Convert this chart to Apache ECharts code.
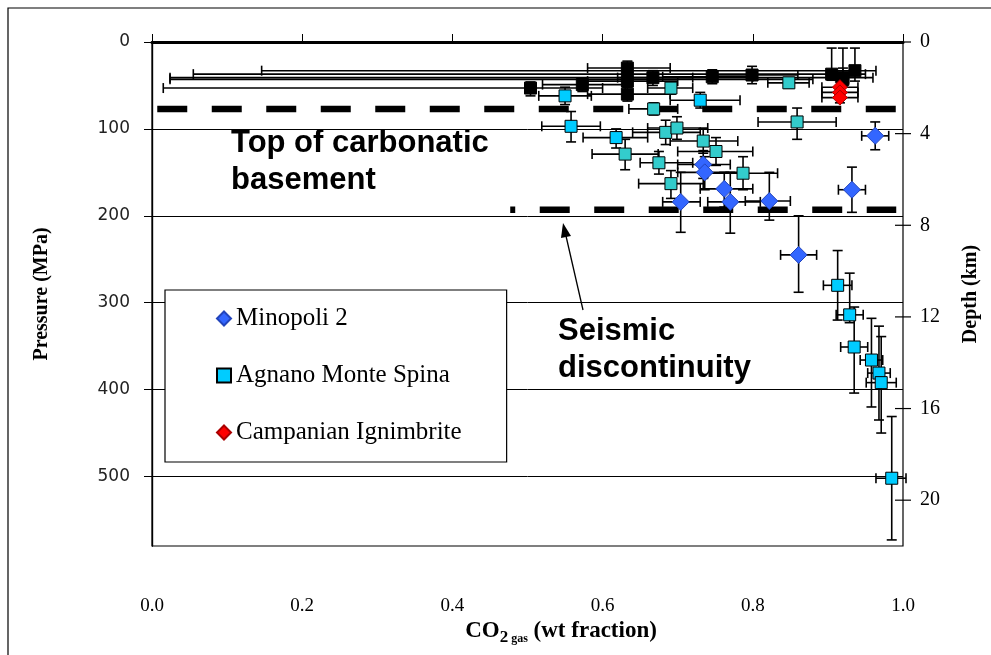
<!DOCTYPE html>
<html lang="en">
<head>
<meta charset="UTF-8">
<title>CO2 gas vs pressure</title>
<script src="https://cdn.jsdelivr.net/npm/echarts@6/dist/echarts.min.js"></script>
<style>
    html, body { margin: 0; padding: 0; background: #fff; }
    #pic { width: 991px; height: 655px; }
</style>
</head>
<body>
<div id="pic"></div>
<script>
// each point: [CO2 fraction, pressure, CO2 low, CO2 high, pressure low, pressure high]
var minopoli = [
    [0.963, 108, 0.945, 0.981, 92, 124],
    [0.932, 170, 0.914, 0.950, 144, 196],
    [0.861, 245, 0.837, 0.885, 200, 288],
    [0.734, 141, 0.700, 0.770, 125, 157],
    [0.736, 150, 0.700, 0.780, 132, 170],
    [0.762, 169, 0.730, 0.800, 150, 190],
    [0.770, 184, 0.740, 0.810, 150, 220],
    [0.704, 184, 0.680, 0.730, 150, 219],
    [0.822, 183, 0.790, 0.850, 150, 205]
];
var agnanoLight = [
    [0.550, 62, 0.515, 0.585, 52, 72],
    [0.558, 97, 0.519, 0.597, 80, 115],
    [0.618, 110, 0.574, 0.660, 100, 122],
    [0.730, 67, 0.690, 0.783, 58, 76],
    [0.913, 280, 0.894, 0.932, 240, 320],
    [0.929, 314, 0.911, 0.947, 266, 323],
    [0.935, 351, 0.917, 0.953, 305, 404],
    [0.958, 366, 0.943, 0.973, 318, 420],
    [0.968, 381, 0.953, 0.983, 327, 435],
    [0.971, 392, 0.951, 0.991, 339, 450],
    [0.985, 502, 0.964, 1.004, 431, 573]
];
var agnanoTeal = [
    [0.630, 129, 0.586, 0.674, 112, 147],
    [0.675, 139, 0.650, 0.720, 126, 152],
    [0.684, 104, 0.640, 0.730, 90, 118],
    [0.699, 99, 0.660, 0.740, 86, 112],
    [0.691, 163, 0.648, 0.734, 148, 180],
    [0.734, 114, 0.690, 0.780, 100, 128],
    [0.751, 126, 0.700, 0.800, 110, 142],
    [0.787, 151, 0.740, 0.833, 132, 170],
    [0.859, 92, 0.807, 0.911, 76, 112],
    [0.691, 53, 0.660, 0.720, 46, 60],
    [0.668, 77, 0.635, 0.700, 70, 84],
    [0.848, 47, 0.820, 0.875, 41, 53]
];
var campanian = [
    [0.916, 52, 0.892, 0.940, 46, 58],
    [0.916, 58, 0.892, 0.940, 52, 64],
    [0.916, 64, 0.892, 0.940, 58, 70]
];
var otherPoints = [
    [0.936, 33, 0.146, 0.964, 7, 45],
    [0.905, 37, 0.055, 0.950, 7, 44],
    [0.920, 41, 0.024, 0.960, 7, 50],
    [0.920, 43, 0.024, 0.880, 30, 52],
    [0.504, 53, 0.015, 0.600, 46, 62],
    [0.573, 49, 0.520, 0.630, 42, 57],
    [0.633, 30, 0.580, 0.690, 22, 38],
    [0.633, 45, 0.580, 0.700, 38, 52],
    [0.633, 60, 0.580, 0.690, 52, 68],
    [0.667, 41, 0.620, 0.720, 33, 50],
    [0.746, 40, 0.680, 0.800, 32, 48],
    [0.799, 38, 0.740, 0.860, 28, 48]
];
// reference levels (MPa) and CO2 extent of the dashed lines
var carbonaticTop = [[0.007, 77], [0.991, 77]];
var seismicLevel = [[0.477, 193], [0.991, 193]];
var pressureTicks = [0, 100, 200, 300, 400, 500];
var depthTicks = [0, 4, 8, 12, 16, 20];

var chart = echarts.init(document.getElementById('pic'));

function errorBars(id, data) {
    return {
        type: 'custom',
        name: id,
        z: 3,
        silent: true,
        encode: { x: 0, y: 1 },
        data: data,
        renderItem: function (params, api) {
            var x = api.value(0), y = api.value(1);
            var a = api.coord([api.value(2), y]), b = api.coord([api.value(3), y]);
            var c = api.coord([x, api.value(4)]), d = api.coord([x, api.value(5)]);
            var cap = 5;
            var st = { stroke: '#000', lineWidth: 1.6 };
            function seg(x1, y1, x2, y2) {
                return { type: 'line', shape: { x1: x1, y1: y1, x2: x2, y2: y2 }, style: st };
            }
            return {
                type: 'group',
                children: [
                    seg(a[0], a[1], b[0], b[1]),
                    seg(a[0], a[1] - cap, a[0], a[1] + cap),
                    seg(b[0], b[1] - cap, b[0], b[1] + cap),
                    seg(c[0], c[1], d[0], d[1]),
                    seg(c[0] - cap, c[1], c[0] + cap, c[1]),
                    seg(d[0] - cap, d[1], d[0] + cap, d[1])
                ]
            };
        }
    };
}

function dots(name, data, symbol, size, color, border) {
    return {
        type: 'scatter',
        name: name,
        z: 5,
        symbol: symbol,
        symbolSize: size,
        data: data.map(function (p) { return [p[0], p[1]]; }),
        itemStyle: { color: color, borderColor: border, borderWidth: 1, opacity: 1 }
    };
}

var serif = 'Liberation Serif';

var option = {
    backgroundColor: '#fff',
    animation: false,
    grid: { left: 152, right: 88, top: 42, bottom: 109, show: true, borderColor: '#000', borderWidth: 1.2 },
    legend: {
        data: ['Minopoli 2', 'Agnano Monte Spina', 'Campanian Ignimbrite'],
        orient: 'vertical',
        left: 165,
        top: 290,
        padding: [16, 45, 17, 51],
        itemGap: 32,
        itemWidth: 14,
        itemHeight: 14,
        borderColor: '#000',
        borderWidth: 1.2,
        backgroundColor: '#fff',
        selectedMode: false,
        textStyle: { fontFamily: serif, fontSize: 25, color: '#000' }
    },
    xAxis: [{
        type: 'value', min: 0, max: 1, interval: 0.2,
        axisLine: { show: true, lineStyle: { color: '#000', width: 1.5 } },
        axisTick: { show: true, inside: true, length: 8, lineStyle: { color: '#000' } },
        axisLabel: {
            margin: 51, color: '#000', fontFamily: serif, fontSize: 19,
            formatter: function (v) { return v.toFixed(1); }
        },
        splitLine: { show: false }
    }, {
        type: 'value', min: 0, max: 1, position: 'top',
        axisLine: { show: true, lineStyle: { color: '#000', width: 3 } },
        axisTick: { show: false }, axisLabel: { show: false }, splitLine: { show: false }
    }],
    yAxis: [{
        type: 'value', inverse: true, min: 0, max: 580, interval: 100, position: 'left',
        axisLine: { show: true, lineStyle: { color: '#000', width: 1.2 } },
        axisTick: { show: true, length: 8, customValues: pressureTicks, lineStyle: { color: '#000' } },
        axisLabel: {
            margin: 22, color: '#222', fontFamily: 'DejaVu Sans', fontSize: 17,
            customValues: pressureTicks
        },
        splitLine: { show: true, lineStyle: { color: '#000', width: 1 } },
        name: 'Pressure (MPa)', nameLocation: 'middle', nameRotate: 90, nameGap: 100,
        nameTextStyle: { fontFamily: serif, fontWeight: 'bold', fontSize: 20, color: '#000' }
    }, {
        type: 'value', inverse: true, min: 0, max: 22, interval: 4, position: 'right',
        axisLine: { show: true, lineStyle: { color: '#000', width: 1.2 } },
        axisTick: { show: false },
        axisLabel: {
            margin: 17, color: '#000', fontFamily: serif, fontSize: 20,
            showMaxLabel: false
        },
        splitLine: { show: false },
        name: 'Depth (km)', nameLocation: 'middle', nameRotate: 90, nameGap: 58,
        nameTextStyle: { fontFamily: serif, fontWeight: 'bold', fontSize: 20, color: '#000' }
    }],
    graphic: [
        { type: 'rect', shape: { x: 8, y: 8, width: 1000, height: 700 }, style: { fill: 'none', stroke: '#000', lineWidth: 1.2 }, silent: true },
        {
            type: 'text', x: 231, y: 125,
            style: { text: 'Top of carbonatic\nbasement', font: 'bold 31px "Liberation Sans"', fill: '#000', lineHeight: 37 }
        },
        {
            type: 'text', x: 558, y: 313,
            style: { text: 'Seismic\ndiscontinuity', font: 'bold 31px "Liberation Sans"', fill: '#000', lineHeight: 37 }
        },
        { type: 'line', shape: { x1: 583, y1: 310, x2: 566, y2: 236 }, style: { stroke: '#000', lineWidth: 1.3 } },
        { type: 'polygon', shape: { points: [[563, 223], [571, 236], [561, 238]] }, style: { fill: '#000' } },
        {
            type: 'text', x: 561, y: 633,
            style: {
                text: '{a|CO}{b|2}{c| gas}{a| (wt fraction)}',
                align: 'center', verticalAlign: 'middle',
                rich: {
                    a: { fontFamily: serif, fontWeight: 'bold', fontSize: 23, fill: '#000', verticalAlign: 'top' },
                    b: { fontFamily: serif, fontWeight: 'bold', fontSize: 17, fill: '#000', verticalAlign: 'top', padding: [9, 0, 0, 0] },
                    c: { fontFamily: serif, fontWeight: 'bold', fontSize: 12, fill: '#000', verticalAlign: 'top', padding: [13, 0, 0, 0] }
                }
            }
        }
    ],
    series: [
        {
            type: 'line', name: 'carbonatic', z: 2, symbol: 'none', silent: true,
            data: carbonaticTop,
            lineStyle: { color: '#000', width: 6.5, type: [30, 24.5], cap: 'butt' }
        },
        {
            type: 'line', name: 'seismic', z: 2, symbol: 'none', silent: true,
            data: seismicLevel,
            lineStyle: { color: '#000', width: 6.5, type: [30, 24.5], dashOffset: 25, cap: 'butt' }
        },
        {
            // depth ticks crossing the right border, placed by the depth axis
            type: 'custom', name: 'depthTicks', yAxisIndex: 1, silent: true, z: 4,
            encode: { y: 0 },
            data: depthTicks.map(function (d) { return [d]; }),
            renderItem: function (params, api) {
                var right = params.coordSys.x + params.coordSys.width;
                var p = api.coord([1, api.value(0)]);
                return {
                    type: 'line',
                    shape: { x1: right - 8, y1: p[1], x2: right + 8, y2: p[1] },
                    style: { stroke: '#000', lineWidth: 1.2 }
                };
            }
        },
        errorBars('errOther', otherPoints),
        errorBars('errMinopoli', minopoli),
        errorBars('errAgnanoL', agnanoLight),
        errorBars('errAgnanoT', agnanoTeal),
        errorBars('errCampanian', campanian),
        dots('other', otherPoints, 'rect', 12, '#000', '#000'),
        dots('Agnano Monte Spina', agnanoLight, 'rect', 12, '#00ccff', '#000'),
        dots('Agnano Monte Spina', agnanoTeal, 'rect', 12, '#33cccc', '#000'),
        dots('Minopoli 2', minopoli, 'diamond', 17, '#3366ff', '#2244bb'),
        dots('Campanian Ignimbrite', campanian, 'diamond', 15, '#ff0000', '#aa0000')
    ]
};

chart.setOption(option);
</script>
</body>
</html>
